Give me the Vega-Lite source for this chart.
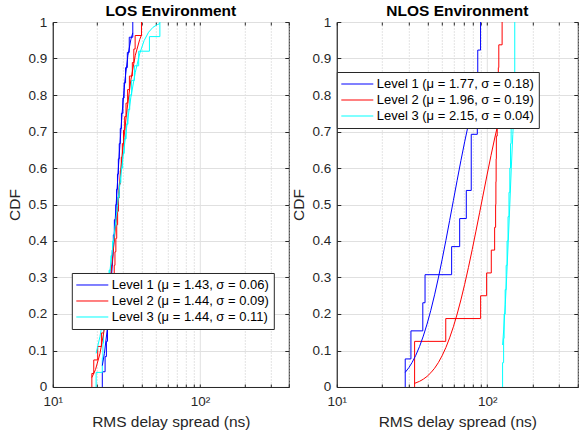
{
  "$schema": "https://vega.github.io/schema/vega-lite/v6.json",
  "padding": {"left": 5.8, "top": 3, "right": 0, "bottom": 0},
  "autosize": {"type": "pad"},
  "spacing": 48,
  "bounds": "flush",
  "config": {
    "font": "Liberation Sans",
    "background": "white",
    "view": {"stroke": "#262626", "strokeWidth": 1},
    "axis": {
      "domainColor": "#262626", "tickColor": "#262626", "labelColor": "#262626", "titleColor": "#262626",
      "labelFont": "Liberation Sans", "labelFontSize": 13.5, "titleFont": "Liberation Sans", "titleFontSize": 15.5, "titleFontWeight": "normal",
      "gridColor": "#e0e0e0", "gridOpacity": 1, "labelFlush": false, "labelOverlap": false
    },
    "title": {"font": "Liberation Sans", "fontSize": 15.5, "fontWeight": "bold", "color": "#000000", "offset": -4},
    "legend": {
      "orient": "none", "title": null, "strokeColor": "#262626", "fillColor": "#ffffff", "padding": 4,
      "labelFont": "Liberation Sans", "labelFontSize": 13, "labelColor": "#000000", "labelLimit": 400,
      "symbolType": "stroke", "symbolStrokeWidth": 2, "symbolOpacity": 1, "symbolSize": 1024, "clipHeight": 16, "rowPadding": 0, "labelOffset": 3
    },
    "line": {"strokeWidth": 1}
  },
  "datasets": {
    "los": [
      {"l":1,"k":"e","x":21.68,"y":0},{"l":1,"k":"e","x":21.68,"y":0.0417},{"l":1,"k":"e","x":22.65,"y":0.0833},{"l":1,"k":"e","x":23.12,"y":0.125},{"l":1,"k":"e","x":23.5,"y":0.1667},{"l":1,"k":"e","x":23.77,"y":0.2083},{"l":1,"k":"e","x":24.15,"y":0.25},{"l":1,"k":"e","x":24.49,"y":0.2917},{"l":1,"k":"e","x":24.95,"y":0.3333},{"l":1,"k":"e","x":25.35,"y":0.375},{"l":1,"k":"e","x":25.76,"y":0.4167},{"l":1,"k":"e","x":26.18,"y":0.4583},{"l":1,"k":"e","x":26.79,"y":0.5},{"l":1,"k":"e","x":27.1,"y":0.5417},{"l":1,"k":"e","x":27.48,"y":0.5833},{"l":1,"k":"e","x":27.86,"y":0.625},{"l":1,"k":"e","x":28.25,"y":0.6667},{"l":1,"k":"e","x":28.71,"y":0.7083},{"l":1,"k":"e","x":29.24,"y":0.75},{"l":1,"k":"e","x":29.92,"y":0.7917},{"l":1,"k":"e","x":30.48,"y":0.8333},{"l":1,"k":"e","x":31.19,"y":0.875},{"l":1,"k":"e","x":32.06,"y":0.9167},{"l":1,"k":"e","x":33.04,"y":0.9583},{"l":1,"k":"e","x":34.91,"y":1},
      {"l":1,"k":"f","x":21.68,"y":0.0586},{"l":1,"k":"f","x":22.39,"y":0.0912},{"l":1,"k":"f","x":23.44,"y":0.1587},{"l":1,"k":"f","x":24.55,"y":0.2525},{"l":1,"k":"f","x":25.7,"y":0.3694},{"l":1,"k":"f","x":26.92,"y":0.5},{"l":1,"k":"f","x":28.18,"y":0.6306},{"l":1,"k":"f","x":29.51,"y":0.7475},{"l":1,"k":"f","x":30.9,"y":0.8413},{"l":1,"k":"f","x":32.36,"y":0.9088},{"l":1,"k":"f","x":33.88,"y":0.9522},{"l":1,"k":"f","x":34.91,"y":0.9702},
      {"l":2,"k":"e","x":18.41,"y":0},{"l":2,"k":"e","x":18.41,"y":0.037},{"l":2,"k":"e","x":18.97,"y":0.0741},{"l":2,"k":"e","x":20.18,"y":0.1111},{"l":2,"k":"e","x":21.38,"y":0.1481},{"l":2,"k":"e","x":22.08,"y":0.1852},{"l":2,"k":"e","x":23.44,"y":0.2222},{"l":2,"k":"e","x":24.83,"y":0.2593},{"l":2,"k":"e","x":25.7,"y":0.2963},{"l":2,"k":"e","x":26.12,"y":0.3333},{"l":2,"k":"e","x":26.42,"y":0.3704},{"l":2,"k":"e","x":26.79,"y":0.4074},{"l":2,"k":"e","x":27.16,"y":0.4444},{"l":2,"k":"e","x":27.54,"y":0.4815},{"l":2,"k":"e","x":27.93,"y":0.5185},{"l":2,"k":"e","x":28.31,"y":0.5556},{"l":2,"k":"e","x":28.71,"y":0.5926},{"l":2,"k":"e","x":29.17,"y":0.6296},{"l":2,"k":"e","x":29.65,"y":0.6667},{"l":2,"k":"e","x":30.2,"y":0.7037},{"l":2,"k":"e","x":30.76,"y":0.7407},{"l":2,"k":"e","x":31.41,"y":0.7778},{"l":2,"k":"e","x":32.21,"y":0.8148},{"l":2,"k":"e","x":33.11,"y":0.8519},{"l":2,"k":"e","x":34.67,"y":0.8889},{"l":2,"k":"e","x":35.48,"y":0.9259},{"l":2,"k":"e","x":36.22,"y":0.963},{"l":2,"k":"e","x":39.99,"y":1},
      {"l":2,"k":"f","x":18.41,"y":0.0259},{"l":2,"k":"f","x":19.5,"y":0.0478},{"l":2,"k":"f","x":20.89,"y":0.0912},{"l":2,"k":"f","x":22.39,"y":0.1587},{"l":2,"k":"f","x":23.99,"y":0.2525},{"l":2,"k":"f","x":25.7,"y":0.3694},{"l":2,"k":"f","x":27.54,"y":0.5},{"l":2,"k":"f","x":29.51,"y":0.6306},{"l":2,"k":"f","x":31.62,"y":0.7475},{"l":2,"k":"f","x":33.88,"y":0.8413},{"l":2,"k":"f","x":36.31,"y":0.9088},{"l":2,"k":"f","x":38.9,"y":0.9522},{"l":2,"k":"f","x":39.99,"y":0.9641},
      {"l":3,"k":"e","x":19.68,"y":0},{"l":3,"k":"e","x":19.68,"y":0.04},{"l":3,"k":"e","x":21.68,"y":0.08},{"l":3,"k":"e","x":21.88,"y":0.12},{"l":3,"k":"e","x":22.08,"y":0.16},{"l":3,"k":"e","x":22.49,"y":0.2},{"l":3,"k":"e","x":22.91,"y":0.24},{"l":3,"k":"e","x":23.44,"y":0.28},{"l":3,"k":"e","x":24.1,"y":0.32},{"l":3,"k":"e","x":24.83,"y":0.36},{"l":3,"k":"e","x":25.47,"y":0.4},{"l":3,"k":"e","x":26.18,"y":0.44},{"l":3,"k":"e","x":26.85,"y":0.48},{"l":3,"k":"e","x":27.54,"y":0.52},{"l":3,"k":"e","x":28.25,"y":0.56},{"l":3,"k":"e","x":28.97,"y":0.6},{"l":3,"k":"e","x":29.79,"y":0.64},{"l":3,"k":"e","x":30.55,"y":0.68},{"l":3,"k":"e","x":31.48,"y":0.72},{"l":3,"k":"e","x":32.36,"y":0.76},{"l":3,"k":"e","x":33.27,"y":0.8},{"l":3,"k":"e","x":34.28,"y":0.84},{"l":3,"k":"e","x":35.81,"y":0.88},{"l":3,"k":"e","x":38.28,"y":0.92},{"l":3,"k":"e","x":45.29,"y":0.96},{"l":3,"k":"e","x":53.33,"y":1},
      {"l":3,"k":"f","x":19.68,"y":0.0922},{"l":3,"k":"f","x":20.89,"y":0.1377},{"l":3,"k":"f","x":22.39,"y":0.2066},{"l":3,"k":"f","x":23.99,"y":0.2928},{"l":3,"k":"f","x":25.7,"y":0.3925},{"l":3,"k":"f","x":27.54,"y":0.5},{"l":3,"k":"f","x":29.51,"y":0.6075},{"l":3,"k":"f","x":31.62,"y":0.7072},{"l":3,"k":"f","x":33.88,"y":0.7934},{"l":3,"k":"f","x":36.31,"y":0.8623},{"l":3,"k":"f","x":38.9,"y":0.9137},{"l":3,"k":"f","x":41.69,"y":0.9491},{"l":3,"k":"f","x":44.67,"y":0.9719},{"l":3,"k":"f","x":47.86,"y":0.9854},{"l":3,"k":"f","x":51.29,"y":0.993},{"l":3,"k":"f","x":53.33,"y":0.9955}
    ],
    "nlos": [
      {"l":1,"k":"e","x":28.5,"y":0},{"l":1,"k":"e","x":28.5,"y":0.0769},{"l":1,"k":"e","x":31.1,"y":0.1538},{"l":1,"k":"e","x":37.3,"y":0.2308},{"l":1,"k":"e","x":38.6,"y":0.3077},{"l":1,"k":"e","x":58.0,"y":0.3846},{"l":1,"k":"e","x":65.6,"y":0.4615},{"l":1,"k":"e","x":72.6,"y":0.5385},{"l":1,"k":"e","x":78.3,"y":0.6923},{"l":1,"k":"e","x":85.9,"y":0.7692},{"l":1,"k":"e","x":86.2,"y":0.8462},{"l":1,"k":"e","x":86.5,"y":0.9231},{"l":1,"k":"e","x":90.3,"y":1},
      {"l":1,"k":"f","x":28.51,"y":0.0401},{"l":1,"k":"f","x":30.2,"y":0.0536},{"l":1,"k":"f","x":31.62,"y":0.0668},{"l":1,"k":"f","x":33.5,"y":0.0867},{"l":1,"k":"f","x":35.48,"y":0.1108},{"l":1,"k":"f","x":37.58,"y":0.1394},{"l":1,"k":"f","x":39.81,"y":0.1725},{"l":1,"k":"f","x":42.17,"y":0.2102},{"l":1,"k":"f","x":44.67,"y":0.2525},{"l":1,"k":"f","x":47.32,"y":0.2988},{"l":1,"k":"f","x":50.12,"y":0.3487},{"l":1,"k":"f","x":53.09,"y":0.4013},{"l":1,"k":"f","x":56.23,"y":0.4558},{"l":1,"k":"f","x":59.57,"y":0.5111},{"l":1,"k":"f","x":63.1,"y":0.5662},{"l":1,"k":"f","x":66.83,"y":0.6201},{"l":1,"k":"f","x":70.79,"y":0.6716},{"l":1,"k":"f","x":74.99,"y":0.7201},{"l":1,"k":"f","x":79.43,"y":0.7649},{"l":1,"k":"f","x":84.14,"y":0.8054},{"l":1,"k":"f","x":90.36,"y":0.8493},
      {"l":2,"k":"e","x":32.9,"y":0},{"l":2,"k":"e","x":32.9,"y":0.125},{"l":2,"k":"e","x":53.0,"y":0.1875},{"l":2,"k":"e","x":90.4,"y":0.25},{"l":2,"k":"e","x":99.1,"y":0.3125},{"l":2,"k":"e","x":106.4,"y":0.375},{"l":2,"k":"e","x":112.0,"y":0.4375},{"l":2,"k":"e","x":113.7,"y":0.5},{"l":2,"k":"e","x":114.2,"y":0.5625},{"l":2,"k":"e","x":114.6,"y":0.625},{"l":2,"k":"e","x":115.0,"y":0.6875},{"l":2,"k":"e","x":116.5,"y":0.75},{"l":2,"k":"e","x":117.5,"y":0.8125},{"l":2,"k":"e","x":118.5,"y":0.875},{"l":2,"k":"e","x":119.4,"y":0.9375},{"l":2,"k":"e","x":125.6,"y":1},
      {"l":2,"k":"f","x":32.89,"y":0.0099},{"l":2,"k":"f","x":35.48,"y":0.0155},{"l":2,"k":"f","x":37.58,"y":0.0214},{"l":2,"k":"f","x":39.81,"y":0.029},{"l":2,"k":"f","x":42.17,"y":0.039},{"l":2,"k":"f","x":44.67,"y":0.0514},{"l":2,"k":"f","x":47.32,"y":0.0668},{"l":2,"k":"f","x":50.12,"y":0.0856},{"l":2,"k":"f","x":53.09,"y":0.108},{"l":2,"k":"f","x":56.23,"y":0.1346},{"l":2,"k":"f","x":59.57,"y":0.165},{"l":2,"k":"f","x":63.1,"y":0.1999},{"l":2,"k":"f","x":66.83,"y":0.2386},{"l":2,"k":"f","x":70.79,"y":0.2813},{"l":2,"k":"f","x":74.99,"y":0.3274},{"l":2,"k":"f","x":79.43,"y":0.376},{"l":2,"k":"f","x":84.14,"y":0.427},{"l":2,"k":"f","x":89.13,"y":0.4789},{"l":2,"k":"f","x":94.41,"y":0.5315},{"l":2,"k":"f","x":100.0,"y":0.5834},{"l":2,"k":"f","x":105.9,"y":0.634},{"l":2,"k":"f","x":112.2,"y":0.6822},{"l":2,"k":"f","x":118.9,"y":0.7275},{"l":2,"k":"f","x":125.6,"y":0.7679},
      {"l":3,"k":"e","x":126.5,"y":0},{"l":3,"k":"e","x":126.5,"y":0.0667},{"l":3,"k":"e","x":128.5,"y":0.1333},{"l":3,"k":"e","x":129.5,"y":0.2},{"l":3,"k":"e","x":131.6,"y":0.2667},{"l":3,"k":"e","x":133.6,"y":0.3333},{"l":3,"k":"e","x":135.5,"y":0.4},{"l":3,"k":"e","x":137.5,"y":0.4667},{"l":3,"k":"e","x":139.5,"y":0.5333},{"l":3,"k":"e","x":141.3,"y":0.6},{"l":3,"k":"e","x":142.8,"y":0.6667},{"l":3,"k":"e","x":144.2,"y":0.7333},{"l":3,"k":"e","x":152.4,"y":1},
      {"l":3,"k":"f","x":126.5,"y":0.1151},{"l":3,"k":"f","x":128.8,"y":0.1587},{"l":3,"k":"f","x":131.8,"y":0.2266},{"l":3,"k":"f","x":134.9,"y":0.3085},{"l":3,"k":"f","x":138.0,"y":0.4013},{"l":3,"k":"f","x":141.3,"y":0.5},{"l":3,"k":"f","x":144.5,"y":0.5987},{"l":3,"k":"f","x":147.9,"y":0.6915},{"l":3,"k":"f","x":152.4,"y":0.7953}
    ]
  },
  "resolve": {"scale": {"color": "independent"}, "legend": {"color": "independent"}},
  "hconcat": [
    {
      "width": 236, "height": 365,
      "title": "LOS Environment",
      "data": {"name": "los"},
      "encoding": {
        "color": {"field": "l", "type": "nominal", "scale": {"domain": [1,2,3], "range": ["#0000ff","#ff0000","#00ffff"]},
          "legend": {"legendX": 19, "legendY": 251, "labelExpr": "datum.value == 1 ? 'Level 1 (μ = 1.43, σ = 0.06)' : datum.value == 2 ? 'Level 2 (μ = 1.44, σ = 0.09)' : 'Level 3 (μ = 1.44, σ = 0.11)'"}},
        "order": {"field": "y", "type": "quantitative"}
      },
      "layer": [
        {
          "transform": [{"filter": "datum.k == 'e'"}],
          "mark": {"type": "line", "interpolate": "step-after", "strokeWidth": 1},
          "encoding": {
            "x": {"field": "x", "type": "quantitative", "title": "RMS delay spread (ns)",
              "scale": {"type": "log", "domain": [10,400], "nice": false},
              "axis": {"values": [10,20,30,40,50,60,70,80,90,100,200,300,400], "labelExpr": "datum.value == 10 ? '10¹' : datum.value == 100 ? '10²' : ''",
                "tickSize": -3, "labelPadding": 11, "titlePadding": 6, "grid": true,
                "gridDash": {"condition": {"test": "datum.value == 10 || datum.value == 100", "value": []}, "value": [1,2]},
                "gridColor": {"condition": {"test": "datum.value == 10 || datum.value == 100", "value": "#e0e0e0"}, "value": "#c8c8c8"}}},
            "y": {"field": "y", "type": "quantitative", "title": "CDF",
              "scale": {"domain": [0,1], "nice": false},
              "axis": {"values": [0,0.1,0.2,0.3,0.4,0.5,0.6,0.7,0.8,0.9,1], "format": ".1~f", "tickSize": -4, "labelPadding": 10, "titlePadding": 6, "grid": true}}
          }
        },
        {
          "transform": [{"filter": "datum.k == 'f'"}],
          "mark": {"type": "line", "strokeWidth": 1},
          "encoding": {
            "x": {"field": "x", "type": "quantitative",
              "scale": {"type": "log", "domain": [10,400], "nice": false},
              "axis": {"orient": "top", "values": [10,20,30,40,50,60,70,80,90,100,200,300,400], "labels": false, "title": null, "domain": false, "grid": false, "tickSize": -3}},
            "y": {"field": "y", "type": "quantitative",
              "scale": {"domain": [0,1], "nice": false},
              "axis": {"orient": "right", "values": [0,0.1,0.2,0.3,0.4,0.5,0.6,0.7,0.8,0.9,1], "labels": false, "title": null, "domain": false, "grid": false, "tickSize": -4}}
          }
        }
      ],
      "resolve": {"axis": {"x": "independent", "y": "independent"}}
    },
    {
      "width": 241, "height": 365,
      "title": "NLOS Environment",
      "data": {"name": "nlos"},
      "encoding": {
        "color": {"field": "l", "type": "nominal", "scale": {"domain": [1,2,3], "range": ["#0000ff","#ff0000","#00ffff"]},
          "legend": {"legendX": 0, "legendY": 50, "labelExpr": "datum.value == 1 ? 'Level 1 (μ = 1.77, σ = 0.18)' : datum.value == 2 ? 'Level 2 (μ = 1.96, σ = 0.19)' : 'Level 3 (μ = 2.15, σ = 0.04)'"}},
        "order": {"field": "y", "type": "quantitative"}
      },
      "layer": [
        {
          "transform": [{"filter": "datum.k == 'e'"}],
          "mark": {"type": "line", "interpolate": "step-after", "strokeWidth": 1},
          "encoding": {
            "x": {"field": "x", "type": "quantitative", "title": "RMS delay spread (ns)",
              "scale": {"type": "log", "domain": [10,400], "nice": false},
              "axis": {"values": [10,20,30,40,50,60,70,80,90,100,200,300,400], "labelExpr": "datum.value == 10 ? '10¹' : datum.value == 100 ? '10²' : ''",
                "tickSize": -3, "labelPadding": 11, "titlePadding": 6, "grid": true,
                "gridDash": {"condition": {"test": "datum.value == 10 || datum.value == 100", "value": []}, "value": [1,2]},
                "gridColor": {"condition": {"test": "datum.value == 10 || datum.value == 100", "value": "#e0e0e0"}, "value": "#c8c8c8"}}},
            "y": {"field": "y", "type": "quantitative", "title": "CDF",
              "scale": {"domain": [0,1], "nice": false},
              "axis": {"values": [0,0.1,0.2,0.3,0.4,0.5,0.6,0.7,0.8,0.9,1], "format": ".1~f", "tickSize": -4, "labelPadding": 10, "titlePadding": 6, "grid": true}}
          }
        },
        {
          "transform": [{"filter": "datum.k == 'f'"}],
          "mark": {"type": "line", "strokeWidth": 1},
          "encoding": {
            "x": {"field": "x", "type": "quantitative",
              "scale": {"type": "log", "domain": [10,400], "nice": false},
              "axis": {"orient": "top", "values": [10,20,30,40,50,60,70,80,90,100,200,300,400], "labels": false, "title": null, "domain": false, "grid": false, "tickSize": -3}},
            "y": {"field": "y", "type": "quantitative",
              "scale": {"domain": [0,1], "nice": false},
              "axis": {"orient": "right", "values": [0,0.1,0.2,0.3,0.4,0.5,0.6,0.7,0.8,0.9,1], "labels": false, "title": null, "domain": false, "grid": false, "tickSize": -4}}
          }
        }
      ],
      "resolve": {"axis": {"x": "independent", "y": "independent"}}
    }
  ]
}
